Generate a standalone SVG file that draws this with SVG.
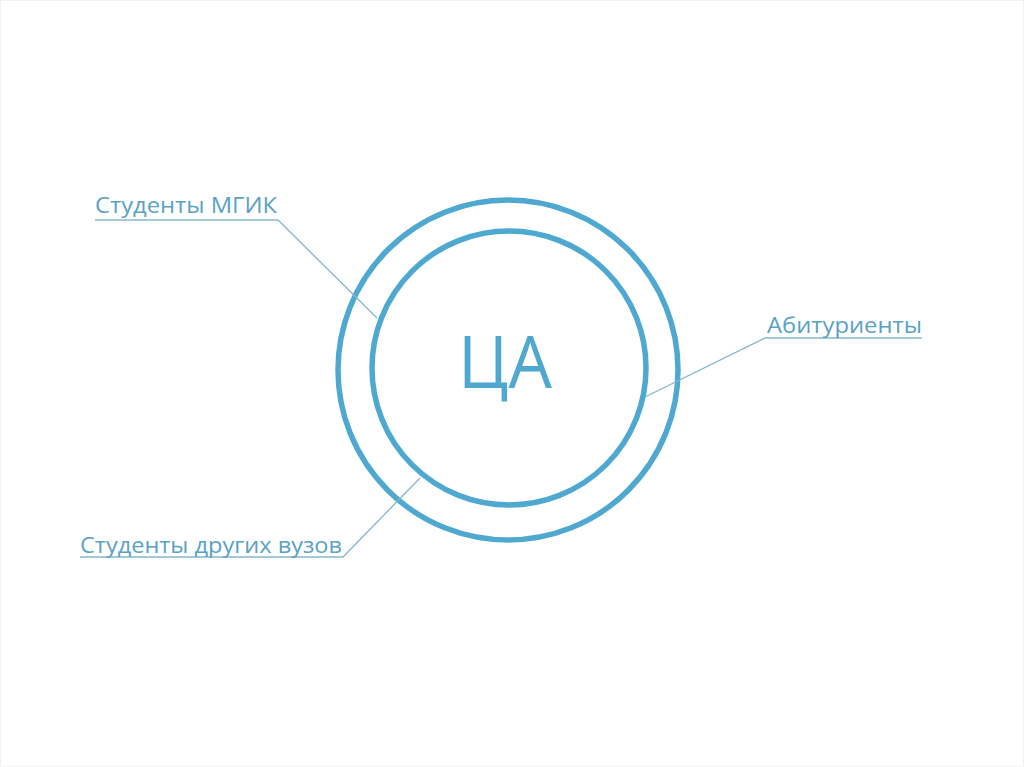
<svg xmlns="http://www.w3.org/2000/svg" width="1024" height="767" viewBox="0 0 1024 767">
<style>
.ring{fill:none;stroke:#4ea8d0;stroke-width:5.5}
.lbl{font-family:"Open Sans","Liberation Sans",sans-serif;font-size:22px;fill:#5aa2c4}
.ld{fill:none;stroke:#86b6cc;stroke-width:1.3}
</style>
<rect width="1024" height="767" fill="#ffffff"/>
<rect x="0.5" y="0.5" width="1023" height="766" fill="none" stroke="#f2f2f2" stroke-width="1"/>
<g id="ca">
<circle class="ring" cx="508" cy="370" r="170"/>
<circle class="ring" cx="509" cy="368" r="137"/>
<text x="505" y="388" text-anchor="middle" font-family="Open Sans, Liberation Sans, sans-serif" font-size="73" fill="#4ea8d0" textLength="94" lengthAdjust="spacingAndGlyphs">ЦА</text>
</g>
<g id="connectors">
<polyline class="ld" points="95,220 278,220 377,318"/>
<polyline class="ld" points="922,338 765,338 645,397"/>
<polyline class="ld" points="80,557 343,557 420,478"/>
</g>
<g id="mgik"><text class="lbl" x="95" y="213" textLength="182" lengthAdjust="spacingAndGlyphs">Студенты МГИК</text></g>
<g id="abit"><text class="lbl" x="767" y="333" textLength="155" lengthAdjust="spacingAndGlyphs">Абитуриенты</text></g>
<g id="other"><text class="lbl" x="80" y="553" textLength="262" lengthAdjust="spacingAndGlyphs">Студенты других вузов</text></g>
</svg>
